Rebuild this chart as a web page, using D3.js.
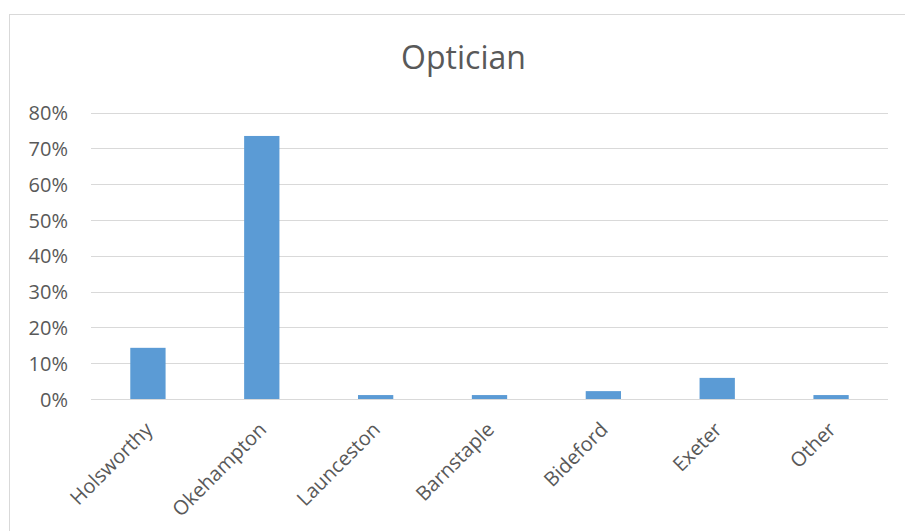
<!DOCTYPE html>
<html>
<head>
<meta charset="utf-8">
<script src="https://cdn.jsdelivr.net/npm/d3@7"></script>
<style>
  html, body { margin: 0; padding: 0; background: #fff; }
  svg { display: block; }
</style>
</head>
<body>
<svg id="chart" width="905" height="531"></svg>
<script>
const title = "Optician";
const categories = ["Holsworthy", "Okehampton", "Launceston", "Barnstaple", "Bideford", "Exeter", "Other"];
const values = [0.143, 0.735, 0.011, 0.011, 0.022, 0.059, 0.011];
const yTicks = [0, 0.1, 0.2, 0.3, 0.4, 0.5, 0.6, 0.7, 0.8];

const W = 905, H = 531;
const font = "'Open Sans', 'Segoe UI', sans-serif";
const textColor = "#595959";
const gridColor = "#d9d9d9";
const barColor = "#5b9bd5";

const svg = d3.select("#chart");
const margin = { left: 91, right: 905 - 888, top: 112.7, bottom: 531 - 399 };

// chart border
svg.append("rect")
  .attr("x", 9.5).attr("y", 14.5)
  .attr("width", 1000).attr("height", 1000)
  .attr("fill", "#fff").attr("stroke", gridColor).attr("stroke-width", 1);

const x = d3.scaleBand()
  .domain(categories)
  .range([margin.left, W - margin.right])
  .paddingInner(0.69).paddingOuter(0.345);

const y = d3.scaleLinear()
  .domain([0, 0.8])
  .range([H - margin.bottom, margin.top]);

// gridlines
svg.append("g")
  .selectAll("line")
  .data(yTicks)
  .join("line")
  .attr("x1", margin.left).attr("x2", W - margin.right)
  .attr("y1", d => Math.round(y(d)) + 0.5).attr("y2", d => Math.round(y(d)) + 0.5)
  .attr("stroke", gridColor).attr("stroke-width", 1);

// y axis labels
const yAxis = d3.axisLeft(y).tickValues(yTicks).tickFormat(d3.format(".0%")).tickSize(0).tickPadding(0);
const gy = svg.append("g").attr("transform", `translate(${68},0)`).call(yAxis);
gy.select(".domain").remove();
gy.selectAll("text")
  .attr("font-family", font).attr("font-size", 20).attr("fill", textColor)
  .attr("dy", "0.35em");

// bars
svg.append("g")
  .selectAll("rect")
  .data(categories.map((c, i) => ({ c, v: values[i] })))
  .join("rect")
  .attr("x", d => x(d.c))
  .attr("width", x.bandwidth())
  .attr("y", d => y(d.v))
  .attr("height", d => y(0) - y(d.v))
  .attr("fill", barColor);

// x axis line
svg.append("line")
  .attr("x1", margin.left).attr("x2", W - margin.right)
  .attr("y1", Math.round(y(0)) + 0.5).attr("y2", Math.round(y(0)) + 0.5)
  .attr("stroke", gridColor).attr("stroke-width", 1);

// x axis labels
const xAxis = d3.axisBottom(x).tickSize(0).tickPadding(0);
const gx = svg.append("g").attr("transform", `translate(0,${y(0) + 12})`).call(xAxis);
gx.select(".domain").remove();
gx.selectAll("text")
  .attr("font-family", font).attr("font-size", 20).attr("fill", textColor)
  .attr("text-anchor", "end")
  .attr("dy", "0.7em")
  .attr("transform", "translate(-4,10) rotate(-45)");

// title
svg.append("text")
  .attr("x", 463.5).attr("y", 69)
  .attr("text-anchor", "middle")
  .attr("font-family", font).attr("font-size", 32).attr("fill", textColor)
  .text(title);
</script>
</body>
</html>
